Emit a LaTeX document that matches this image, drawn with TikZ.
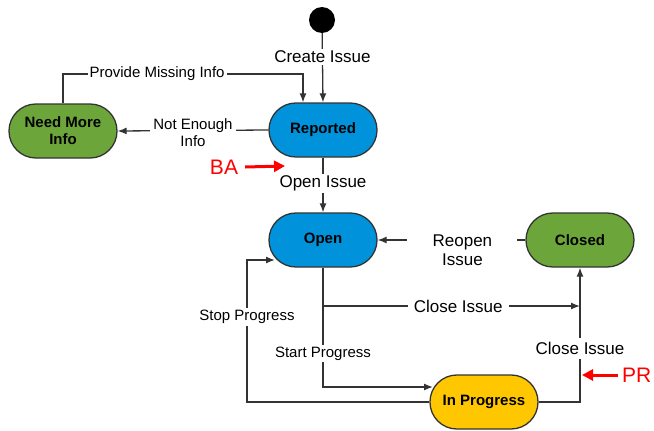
\documentclass[tikz,border=0pt]{standalone}
\usepackage{fontspec}
\setmainfont{Liberation Sans}
\usetikzlibrary{arrows.meta}
\definecolor{stblue}{RGB}{0,146,219}
\definecolor{stgreen}{RGB}{108,166,58}
\definecolor{styellow}{RGB}{255,199,0}
\definecolor{edge}{RGB}{51,51,51}
\tikzset{
  state/.style={draw=edge, line width=1.3pt, rounded corners=26.9pt, minimum width=108pt, minimum height=54pt,
    inner sep=0pt, align=center, font=\fontsize{15}{17}\selectfont\bfseries},
  conn/.style={draw=edge, line width=1.3pt, -{Latex[length=9pt,width=7pt]}},
  plain/.style={draw=edge, line width=1.3pt},
  lbl/.style={fill=white, inner sep=2pt, align=center, font=\fontsize{15}{17}\selectfont},
  biglbl/.style={fill=white, inner sep=2pt, align=center, font=\fontsize{17}{19.5}\selectfont},
  redarrow/.style={draw=red, line width=3pt, -{Triangle[length=11pt,width=11pt]}},
  redtext/.style={text=red, inner sep=1pt, font=\fontsize{21}{24}\selectfont}
}
\begin{document}
\begin{tikzpicture}[x=1pt,y=-1pt]
\useasboundingbox (0,0) rectangle (654,431);
% states
\node[circle, fill=black, minimum size=26pt, inner sep=0pt] (start) at (322,20) {};
\node[state, fill=stblue] (rep) at (323,130) {Reported};
\node[state, fill=stgreen] (nmi) at (63,131) {Need More\\Info};
\node[state, fill=stblue] (open) at (323,240) {Open};
\node[state, fill=stgreen] (closed) at (580,240) {Closed};
\node[state, fill=styellow] (ip) at (484,402) {In Progress};
% helper coordinates
\coordinate (pmi) at (303,74);
\coordinate (ci) at (580,306);
\coordinate (spt) at (433,387);
\coordinate (sp) at (247,260);
\coordinate (spend) at (275,260);
\coordinate (batip) at (285,166);
\coordinate (prtip) at (582,375);
% connectors
\draw[conn] (start) -- (rep.north) node[biglbl, pos=0.34] {Create Issue};
\draw[conn] (nmi.north) |- (pmi) node[lbl, pos=0.696] {Provide Missing Info} -- (pmi |- rep.north);
\draw[conn] (rep.west) -- (nmi.east) node[lbl, midway, yshift=-2pt, inner sep=3pt] {Not Enough\\Info};
\draw[conn] (rep.south) -- (open.north) node[biglbl, pos=0.47] {Open Issue};
\draw[conn] (closed.west) -- (open.east) node[biglbl, pos=0.426, yshift=-10pt, minimum width=110pt] {Reopen\\Issue};
\draw[conn] (open.south) |- (ci) node[biglbl, pos=0.763, inner sep=6pt] {Close Issue};
\draw[conn] (open.south) |- (spt) node[lbl, pos=0.36] {Start Progress};
\draw[conn] (ip.west) -| (sp) node[lbl, pos=0.8] {Stop Progress} -- (spend);
\draw[conn] (ip.east) -| (closed.south) node[biglbl, pos=0.70, inner sep=4pt] {Close Issue};
% annotations
\node[redtext] (ba) at (224,167) {BA};
\draw[redarrow] (ba.east) ++(6,0) coordinate (bas) (bas) -- (batip);
\node[redtext, anchor=west] (pr) at (621,375) {PR};
\draw[redarrow] (pr.west) ++(-3,0) coordinate (prs) (prs) -- (prtip);
\end{tikzpicture}
\end{document}
